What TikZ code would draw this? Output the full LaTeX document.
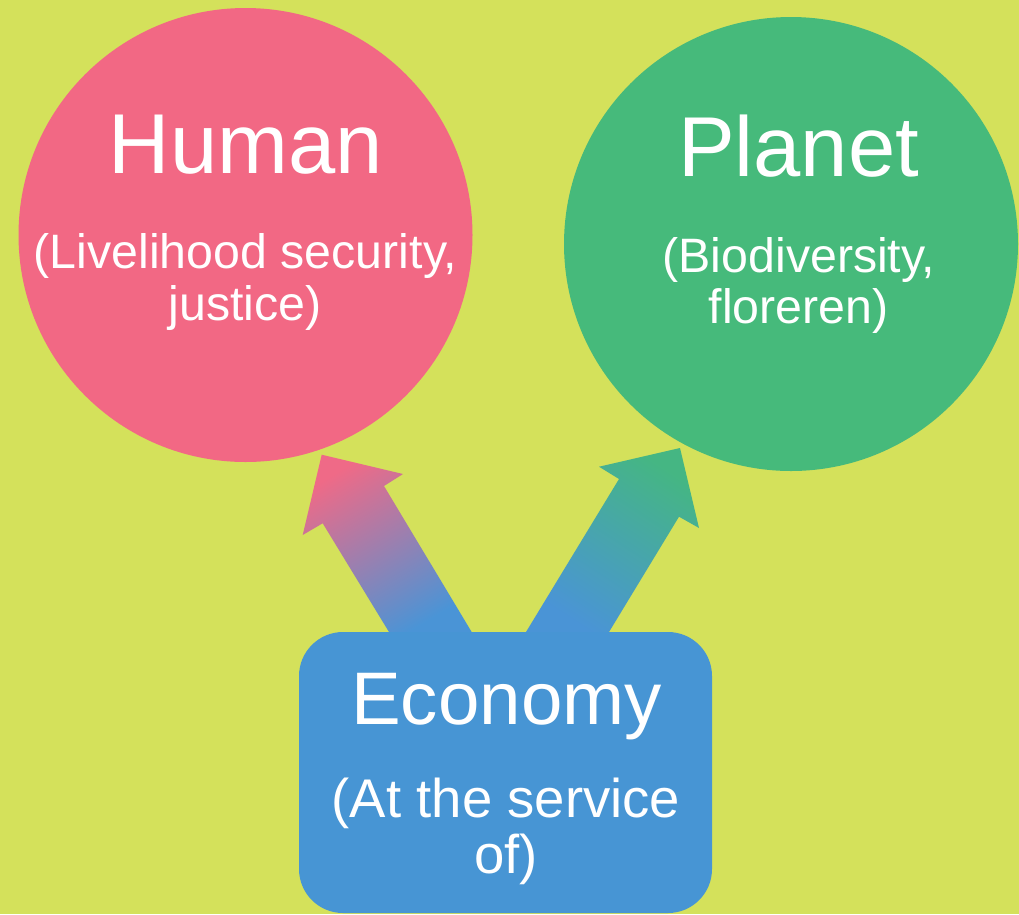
\documentclass[tikz,border=0pt]{standalone}
\usepackage{fontspec}
\setmainfont{Liberation Sans}
\definecolor{bg}{HTML}{D4E15B}
\definecolor{humanred}{HTML}{F26884}
\definecolor{planetgreen}{HTML}{46BA7B}
\definecolor{econblue}{HTML}{4795D4}
\definecolor{arrowpink}{HTML}{EF6A87}
\definecolor{arrowgreen}{HTML}{45B683}
\definecolor{arrowblue}{HTML}{4A94D6}
\tikzset{
  bubble/.style={circle, inner sep=0pt, minimum size=454pt},
  titletext/.style={text=white, inner sep=0pt, anchor=base, font=\fontsize{85}{90}\selectfont},
  ectitle/.style={text=white, inner sep=0pt, anchor=base, font=\fontsize{74.5}{80}\selectfont},
  subtext/.style={text=white, inner sep=0pt, anchor=base, font=\fontsize{48.3}{52}\selectfont},
  ecsub/.style={text=white, inner sep=0pt, anchor=base, font=\fontsize{54.5}{60}\selectfont},
}
\begin{document}
\begin{tikzpicture}[x=1pt,y=-1pt]
\fill[bg] (0,0) rectangle (1019,914);
\useasboundingbox (0,0) rectangle (1019,914);

\node[bubble, fill=humanred] (human) at (245.5,235) {};
\node[bubble, fill=planetgreen] (planet) at (791,244) {};

% block arrows
\shade[top color=arrowpink, bottom color=arrowblue, shading angle=31]
  (389,632) -- (322.7,523.3) -- (302.7,535) -- (321.7,454.7) -- (403,474) -- (384,486) -- (471.7,632) -- cycle;
\shade[top color=arrowgreen, bottom color=arrowblue, shading angle=-33]
  (526,632) -- (619,479) -- (599,466.7) -- (680,448) -- (699,528) -- (679,516.7) -- (609,632) -- cycle;

\fill[econblue, rounded corners=44pt] (299,632) rectangle (712,913);
\coordinate (econ) at (505.5,772);

\node[titletext] (humant) at (246,173) {Human};
\node[subtext] (humans1) at (245.5,268) {(Livelihood security,};
\node[subtext] (humans2) at (245,320) {justice)};

\node[titletext] (planett) at (798.5,176) {Planet};
\node[subtext] (planets1) at (799,272.5) {(Biodiversity,};
\node[subtext] (planets2) at (798.5,323) {floreren)};

\node[ectitle] (econt) at (506.5,724) {Economy};
\node[ecsub] (econs1) at (506,817) {(At the service};
\node[ecsub] (econs2) at (506,873) {of)};
\end{tikzpicture}
\end{document}
